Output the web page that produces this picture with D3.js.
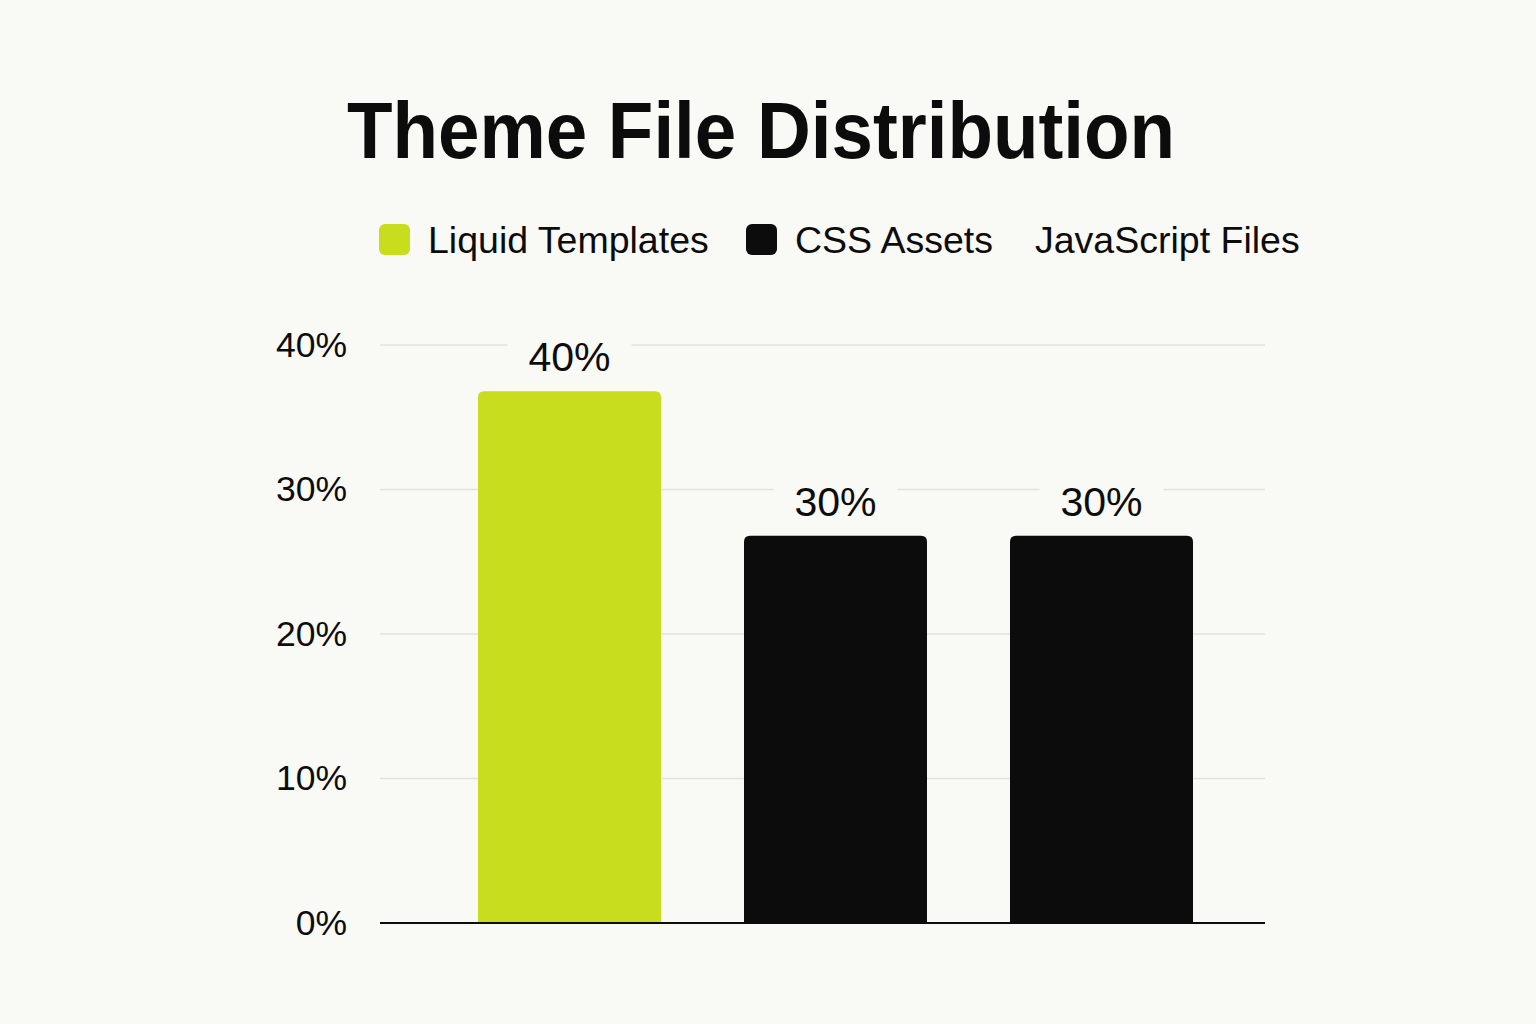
<!DOCTYPE html>
<html>
<head>
<meta charset="utf-8">
<script src="https://cdn.jsdelivr.net/npm/d3@7"></script>
<style>
  html, body { margin: 0; padding: 0; background: #f9f9f5; }
  svg { display: block; }
</style>
</head>
<body>
<svg id="chart"></svg>
<script>
// Theme file share as a simple bar chart with a legend above

const categories = ["Liquid Templates", "CSS Assets", "JavaScript Files"]
// labels printed above the bars
const labelValues = [40, 30, 30]
// bar heights as they appear against the axis (drawn a bit shorter than their labels)
const barValues = [36.8, 26.8, 26.8]
const tickValues = [0, 10, 20, 30, 40]
const colors = ["#c9dd1f", "#0c0c0c", "#0c0c0c"]
// the third legend entry has no visible swatch
const legendColors = ["#c9dd1f", "#0c0c0c", "none"]

const width = 1536
const height = 1024
const bg = "#f9f9f5"
const font = "'Liberation Sans', Arial, sans-serif"

const svg = d3.select("#chart")
  .attr("width", width)
  .attr("height", height)

svg.append("rect")
  .attr("width", width)
  .attr("height", height)
  .attr("fill", bg)

// title
svg.append("text")
  .text("Theme File Distribution")
  .attr("x", 761)
  .attr("y", 158)
  .attr("text-anchor", "middle")
  .attr("textLength", 828)
  .attr("lengthAdjust", "spacingAndGlyphs")
  .style("font-family", font)
  .style("font-weight", "bold")
  .style("font-size", "79px")
  .attr("fill", "#0c0c0c")

// legend
const legendX = [428, 795, 1035]
const legend = svg.append("g")
  .selectAll("g")
  .data(categories)
  .join("g")
  .attr("transform", (d, i) => `translate(${legendX[i]},224)`)

legend.append("rect")
  .attr("x", -49)
  .attr("width", 31)
  .attr("height", 31)
  .attr("rx", 6)
  .attr("fill", (d, i) => legendColors[i])

legend.append("text")
  .text(d => d)
  .attr("y", 29)
  .style("font-family", font)
  .style("font-size", "37.5px")
  .attr("fill", "#0c0c0c")

// scales
const y = d3.scaleLinear().domain([0, 40]).range([923, 345])
const x = d3.scaleBand()
  .domain(categories)
  .range([478, 1193])
  .paddingInner(0.312)
  .paddingOuter(0)

const left = 380
const right = 1265

// gridlines
svg.append("g")
  .selectAll("line")
  .data(tickValues.filter(t => t > 0))
  .join("line")
  .attr("x1", left)
  .attr("x2", right)
  .attr("y1", d => y(d))
  .attr("y2", d => y(d))
  .attr("stroke", "#e2e2de")
  .attr("stroke-width", 1.5)

// y axis labels
const yAxis = svg.append("g")
  .attr("transform", `translate(${left},0)`)
  .call(d3.axisLeft(y).tickValues(tickValues).tickFormat(d => d + "%").tickSize(0).tickPadding(33))
yAxis.select(".domain").remove()
yAxis.selectAll("text")
  .style("font-family", font)
  .style("font-size", "35.5px")
  .attr("fill", "#0c0c0c")

// bars with rounded top corners
const r = 6
function barPath(d, i) {
  const x0 = x(d)
  const x1 = x0 + x.bandwidth()
  const y0 = y(barValues[i])
  const yb = y(0)
  return `M${x0},${yb}V${y0 + r}Q${x0},${y0} ${x0 + r},${y0}H${x1 - r}Q${x1},${y0} ${x1},${y0 + r}V${yb}Z`
}

svg.append("g")
  .selectAll("path")
  .data(categories)
  .join("path")
  .attr("d", barPath)
  .attr("fill", (d, i) => colors[i])

// value labels, with a background patch that breaks the gridline
const labels = svg.append("g")
  .selectAll("g")
  .data(categories)
  .join("g")
  .attr("transform", (d, i) => `translate(${x(d) + x.bandwidth() / 2},${y(barValues[i]) - 20})`)

labels.append("rect")
  .attr("x", -62)
  .attr("y", -36)
  .attr("width", 124)
  .attr("height", 42)
  .attr("fill", bg)

labels.append("text")
  .text((d, i) => labelValues[i] + "%")
  .attr("text-anchor", "middle")
  .style("font-family", font)
  .style("font-size", "41px")
  .attr("fill", "#0c0c0c")

// baseline
svg.append("line")
  .attr("x1", left)
  .attr("x2", right)
  .attr("y1", y(0))
  .attr("y2", y(0))
  .attr("stroke", "#0c0c0c")
  .attr("stroke-width", 2)
</script>
</body>
</html>
